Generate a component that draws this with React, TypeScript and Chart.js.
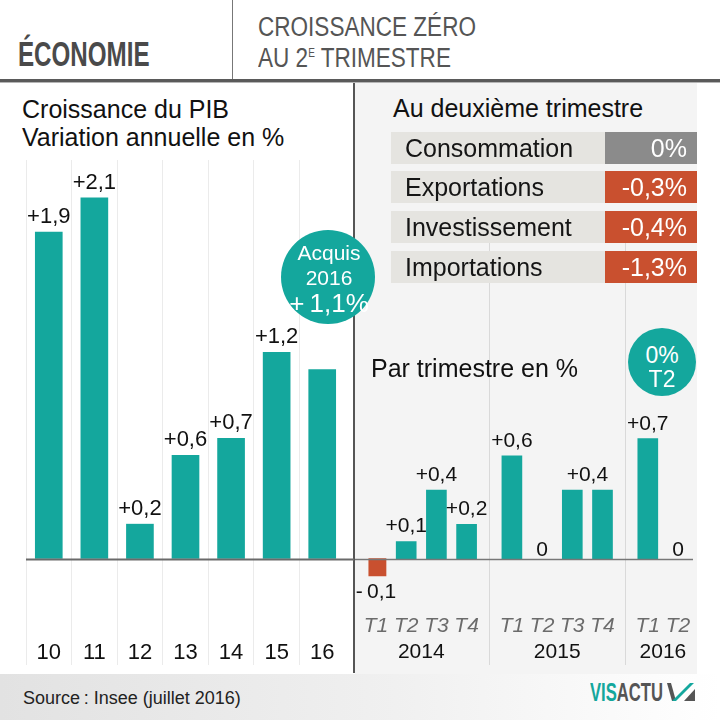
import React, { useEffect, useRef } from 'react';
import { Chart, registerables } from 'chart.js';

Chart.register(...registerables);

// ---------- DATA ----------
const annualYears = ['10', '11', '12', '13', '14', '15', '16'];
const annualGrowth = [1.9, 2.1, 0.2, 0.6, 0.7, 1.2, 1.1];
// 'own' = label over the bar, 'pair' = one label shared with the next bar, 'none' = no label
const annualLabelMode = ['own', 'own', 'own', 'own', 'own', 'own', 'none'];

const quarterNames = ['T1', 'T2', 'T3', 'T4', 'T1', 'T2', 'T3', 'T4', 'T1', 'T2'];
const quarterYears = ['2014', '2014', '2014', '2014', '2015', '2015', '2015', '2015', '2016', '2016'];
const quarterGrowth = [-0.1, 0.1, 0.4, 0.2, 0.6, 0, 0.4, 0.4, 0.7, 0];
const quarterLabelMode = ['own', 'own', 'own', 'own', 'own', 'own', 'pair', 'none', 'own', 'own'];

const componentNames = ['Consommation', 'Exportations', 'Investissement', 'Importations'];
const componentValues = [0, -0.3, -0.4, -1.3];

const acquisYear = '2016';
const acquisValue = 1.1;
const lastQuarterName = 'T2';
const lastQuarterValue = 0;

// ---------- STYLE ----------
const FONT = "'Liberation Sans', Arial, Helvetica, sans-serif";
const TEAL = '#14a79d';
const RED = '#c9502f';
const GREY_BOX = '#8b8b8b';

Chart.defaults.font.family = FONT;

function fmtValue(v: number): string {
  if (v === 0) return '0';
  return (v > 0 ? '+' : '-\u2009') + Math.abs(v).toFixed(1).replace('.', ',');
}
function fmtPct(v: number): string {
  if (v === 0) return '0%';
  return (v > 0 ? '+' : '-') + Math.abs(v).toFixed(1).replace('.', ',') + '%';
}

// Slot layout for the quarterly chart: 2 slots per quarter, one extra slot between years
const qSlotPos: number[] = [];
const yearSlot: { year: string; slot: number }[] = [];
const separatorIdx: number[] = [];
(() => {
  let pos = 0;
  let groupStart = 0;
  for (let i = 0; i < quarterNames.length; i++) {
    if (i > 0) {
      if (quarterYears[i] !== quarterYears[i - 1]) {
        yearSlot.push({ year: quarterYears[i - 1], slot: Math.round((groupStart + qSlotPos[i - 1]) / 2) });
        separatorIdx.push(qSlotPos[i - 1] + 2);
        pos += 3;
        groupStart = pos;
      } else pos += 2;
    }
    qSlotPos.push(pos);
  }
  yearSlot.push({ year: quarterYears[quarterYears.length - 1], slot: Math.round((groupStart + pos) / 2) });
})();
const nSlots = qSlotPos[qSlotPos.length - 1] + 1;
const qSlotLabels: string[] = Array(nSlots).fill('');
const qSlotValues: (number | null)[] = Array(nSlots).fill(null);
const qSlotMode: string[] = Array(nSlots).fill('none');
quarterNames.forEach((n, i) => {
  qSlotLabels[qSlotPos[i]] = n;
  qSlotValues[qSlotPos[i]] = quarterGrowth[i];
  qSlotMode[qSlotPos[i]] = quarterLabelMode[i];
});
const ySlotLabels: string[] = Array(nSlots).fill('');
yearSlot.forEach((y) => (ySlotLabels[y.slot] = y.year));

// ---------- PLUGINS ----------
const valueLabelPlugin = {
  id: 'valueLabels',
  afterDatasetsDraw(chart: any, _args: any, opts: any) {
    const { ctx } = chart;
    const meta = chart.getDatasetMeta(0);
    const data = chart.data.datasets[0].data;
    const modes = opts.modes;
    ctx.save();
    ctx.font = opts.font;
    ctx.fillStyle = '#111';
    ctx.textAlign = 'center';
    ctx.textBaseline = 'alphabetic';
    meta.data.forEach((el: any, i: number) => {
      const v = data[i];
      if (v === null || v === undefined) return;
      const mode = modes[i];
      if (mode === 'none') return;
      const p = el.getProps(['x', 'y', 'base'], true);
      let x = p.x;
      let y = p.y;
      if (mode === 'pair') {
        for (let j = i + 1; j < data.length; j++) {
          if (data[j] !== null && data[j] !== undefined) {
            const q = meta.data[j].getProps(['x', 'y'], true);
            x = (x + q.x) / 2;
            y = Math.min(y, q.y);
            break;
          }
        }
      }
      let ty: number;
      if (v > 0) ty = y - 9;
      else if (v < 0) ty = y + 22;
      else ty = p.base - 3;
      ctx.fillText(fmtValue(v), x, ty);
    });
    ctx.restore();
  },
};

const zeroLinePlugin = {
  id: 'zeroLine',
  afterDatasetsDraw(chart: any, _args: any, opts: any) {
    const { ctx } = chart;
    const y = Math.round(chart.scales.y.getPixelForValue(0)) + 0.5;
    ctx.save();
    ctx.strokeStyle = opts.color;
    ctx.lineWidth = opts.width;
    ctx.beginPath();
    ctx.moveTo(opts.x0, y);
    ctx.lineTo(opts.x1, y);
    ctx.stroke();
    ctx.restore();
  },
};

// draws category labels of the x scale in rows (inside the chart area)
const axisLabelPlugin = {
  id: 'axisLabels',
  afterDraw(chart: any, _args: any, opts: any) {
    const { ctx } = chart;
    const xs = chart.scales.x;
    ctx.save();
    ctx.textAlign = 'center';
    ctx.textBaseline = 'alphabetic';
    for (const row of opts.rows) {
      ctx.font = row.font;
      ctx.fillStyle = row.color;
      row.labels.forEach((t: string, i: number) => {
        if (!t) return;
        ctx.fillText(t, xs.getPixelForValue(i), row.y);
      });
    }
    ctx.restore();
  },
};

const barColor = (c: any) => {
  const v = c.raw ?? 0;
  if (v === 0) return 'rgba(0,0,0,0)';
  return v < 0 ? RED : TEAL;
};

// ---------- CHARTS ----------
function AnnualChart() {
  const ref = useRef<HTMLCanvasElement>(null);
  useEffect(() => {
    const n = annualYears.length;
    const chart = new Chart(ref.current as HTMLCanvasElement, {
      type: 'bar',
      data: {
        labels: annualYears,
        datasets: [{ data: annualGrowth, backgroundColor: barColor, barThickness: 27 }],
      },
      options: {
        animation: false,
        responsive: false,
        maintainAspectRatio: false,
        layout: { padding: { left: 26, right: 10, top: 0, bottom: 0 } },
        plugins: {
          legend: { display: false },
          tooltip: { enabled: false },
          valueLabels: { font: `22px ${FONT}`, modes: annualLabelMode },
          zeroLine: { x0: 26, x1: 354, color: '#6a6a6a', width: 2 },
          axisLabels: {
            rows: [{ labels: annualYears, font: `22px ${FONT}`, color: '#111', y: 499 }],
          },
        } as any,
        scales: {
          x: {
            offset: true,
            grid: {
              offset: true,
              drawTicks: false,
              color: (c: any) =>
                c.index === undefined || c.index >= n ? 'rgba(0,0,0,0)' : '#ebebeb',
            },
            border: { display: false },
            ticks: { display: false },
            afterFit: (s: any) => {
              s.height = 0;
            },
          },
          y: { display: false, min: -0.62, max: 2.32 },
        },
      } as any,
      plugins: [valueLabelPlugin, zeroLinePlugin, axisLabelPlugin],
    });
    return () => chart.destroy();
  }, []);
  return (
    <canvas
      ref={ref}
      width={355}
      height={505}
      style={{ position: 'absolute', left: 0, top: 160, width: 355, height: 505 }}
    />
  );
}

function QuarterChart() {
  const ref = useRef<HTMLCanvasElement>(null);
  useEffect(() => {
    const chart = new Chart(ref.current as HTMLCanvasElement, {
      type: 'bar',
      data: {
        labels: qSlotLabels,
        datasets: [{ data: qSlotValues, backgroundColor: barColor, barThickness: 20 }],
      },
      options: {
        animation: false,
        responsive: false,
        maintainAspectRatio: false,
        layout: { padding: { left: 13.45, right: 11.45, top: 0, bottom: 0 } },
        plugins: {
          legend: { display: false },
          tooltip: { enabled: false },
          valueLabels: { font: `21px ${FONT}`, modes: qSlotMode },
          zeroLine: { x0: 0, x1: 338, color: '#777', width: 1.5 },
          axisLabels: {
            rows: [
              { labels: qSlotLabels, font: `italic 21px ${FONT}`, color: '#6b6b6b', y: 389 },
              { labels: ySlotLabels, font: `21px ${FONT}`, color: '#111', y: 415 },
            ],
          },
        } as any,
        scales: {
          x: {
            offset: true,
            grid: {
              offset: true,
              drawTicks: false,
              color: (c: any) =>
                c.index !== undefined && separatorIdx.includes(c.index) ? '#d9d9d9' : 'rgba(0,0,0,0)',
            },
            border: { display: false },
            ticks: { display: false },
            afterFit: (s: any) => {
              s.height = 0;
            },
          },
          y: { display: false, min: -0.62, max: 1.84 },
        },
      } as any,
      plugins: [valueLabelPlugin, zeroLinePlugin, axisLabelPlugin],
    });
    return () => chart.destroy();
  }, []);
  return (
    <canvas
      ref={ref}
      width={342}
      height={422}
      style={{ position: 'absolute', left: 355, top: 243, width: 342, height: 422 }}
    />
  );
}

// ---------- TEXT HELPER ----------
function Txt(props: {
  x: number;
  y: number;
  size: number;
  children: any;
  color?: string;
  weight?: number | string;
  align?: 'left' | 'center' | 'right';
  sx?: number;
  italic?: boolean;
}) {
  const { x, y, size, children, color = '#111', weight = 400, align = 'left', sx = 1, italic = false } = props;
  const top = y - 0.8465 * size;
  const style: any = {
    position: 'absolute',
    top,
    fontFamily: FONT,
    fontSize: size,
    lineHeight: `${size}px`,
    color,
    fontWeight: weight,
    fontStyle: italic ? 'italic' : 'normal',
    whiteSpace: 'nowrap',
  };
  if (align === 'left') {
    style.left = x;
    style.transformOrigin = 'left center';
    if (sx !== 1) style.transform = `scaleX(${sx})`;
  } else if (align === 'right') {
    style.right = 720 - x;
    style.transformOrigin = 'right center';
    if (sx !== 1) style.transform = `scaleX(${sx})`;
  } else {
    style.left = x;
    style.transform = `translateX(-50%) scaleX(${sx})`;
  }
  return <div style={style}>{children}</div>;
}

const abs = (l: number, t: number, w: number, h: number, extra: any = {}): any => ({
  position: 'absolute',
  left: l,
  top: t,
  width: w,
  height: h,
  ...extra,
});

export default function App() {
  const rowTops = [132, 171, 211, 251];
  return (
    <div
      style={{
        position: 'absolute',
        left: 0,
        top: 0,
        width: 720,
        height: 720,
        overflow: 'hidden',
        background: '#ffffff',
        fontFamily: FONT,
      }}
    >
      {/* Header */}
      <Txt x={18} y={66} size={35} weight={700} color="#4a4a4a" sx={0.69}>
        ÉCONOMIE
      </Txt>
      <div style={abs(232, 0, 1, 79, { background: '#777' })} />
      <Txt x={258} y={37} size={27} color="#555" sx={0.835}>
        CROISSANCE ZÉRO
      </Txt>
      <Txt x={258} y={63} size={27} color="#555" sx={0.835}>
        AU 2<span style={{ fontSize: 12, verticalAlign: 10 }}>E</span> TRIMESTRE
      </Txt>
      <div style={abs(0, 79, 720, 3, { background: '#5a5a5a' })} />
      <div style={abs(0, 82, 720, 1, { background: '#b5b5b5' })} />

      {/* Right panel background */}
      <div style={abs(355, 83, 342, 591, { background: '#f4f4f4' })} />
      {/* Panel divider */}
      <div style={abs(353, 83, 2, 590, { background: '#555' })} />

      {/* Footer */}
      <div
        style={abs(0, 674, 720, 46, {
          background: 'linear-gradient(to right, #e2e2e2 0%, #f0f0f0 55%, #ffffff 100%)',
        })}
      />
      <Txt x={23} y={704} size={18} color="#222">
        {'Source\u2009: Insee (juillet 2016)'}
      </Txt>
      <Txt x={590} y={701} size={25} weight={700} color="#555" sx={0.665}>
        <span style={{ color: TEAL }}>VIS</span>ACTU
      </Txt>
      <svg style={abs(0, 0, 720, 720, { pointerEvents: 'none' })} width={720} height={720}>
        <polygon points="667,683 671,683 676,701 672,701" fill="#555" />
        <polygon points="672,701 676,701 694,683 690,683" fill={TEAL} />
        <polygon points="684,701 695,701 695,689" fill="#555" />
      </svg>

      {/* Left titles */}
      <Txt x={22} y={118} size={25}>
        Croissance du PIB
      </Txt>
      <Txt x={22} y={146} size={25}>
        Variation annuelle en %
      </Txt>

      {/* Charts */}
      <AnnualChart />
      <QuarterChart />

      {/* Right table */}
      <Txt x={393} y={117} size={25}>
        Au deuxième trimestre
      </Txt>
      {componentNames.map((n, i) => (
        <React.Fragment key={n}>
          <div style={abs(391, rowTops[i], 214, 32, { background: '#e5e4e0' })} />
          <div
            style={abs(605, rowTops[i], 92, 32, {
              background: componentValues[i] < 0 ? RED : GREY_BOX,
            })}
          />
          <Txt x={405} y={rowTops[i] + 25} size={25} color="#151515">
            {n}
          </Txt>
          <Txt x={687} y={rowTops[i] + 25} size={25} color="#ffffff" align="right">
            {fmtPct(componentValues[i])}
          </Txt>
        </React.Fragment>
      ))}

      <Txt x={371} y={377} size={25}>
        Par trimestre en %
      </Txt>

      {/* Circles */}
      <div style={abs(328 - 47, 277 - 47, 94, 94, { borderRadius: '50%', background: TEAL })} />
      <Txt x={329} y={260} size={21} color="#fff" align="center">
        Acquis
      </Txt>
      <Txt x={329} y={285} size={21} color="#fff" align="center">
        {acquisYear}
      </Txt>
      <Txt x={329} y={312} size={26} color="#fff" align="center">
        {'+\u2009' + Math.abs(acquisValue).toFixed(1).replace('.', ',') + '%'}
      </Txt>

      <div style={abs(662 - 34, 362 - 34, 68, 68, { borderRadius: '50%', background: TEAL })} />
      <Txt x={662} y={363} size={23} color="#fff" align="center">
        {`${lastQuarterValue}%`}
      </Txt>
      <Txt x={662} y={387} size={23} color="#fff" align="center">
        {lastQuarterName}
      </Txt>
    </div>
  );
}
